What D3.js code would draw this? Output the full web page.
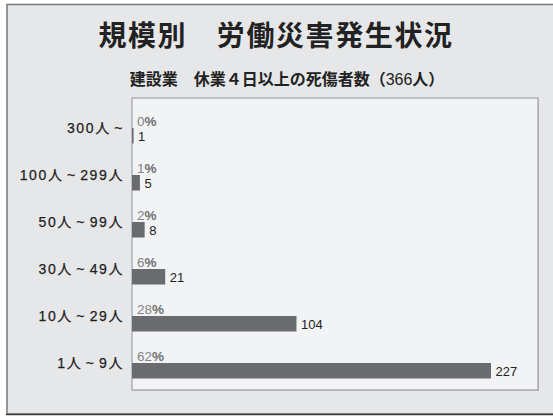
<!DOCTYPE html>
<html>
<head>
<meta charset="utf-8">
<script src="https://cdn.jsdelivr.net/npm/d3@7"></script>
<style>
  body { margin: 0; background: #fff; }
  svg { display: block; }
</style>
</head>
<body>
<svg width="553" height="416"></svg>
<script>
// data
var categories = ["300人 ~", "100人 ~ 299人", "50人 ~ 99人", "30人 ~ 49人", "10人 ~ 29人", "1人 ~ 9人"];
var counts = [1, 5, 8, 21, 104, 227];
var percents = [0, 1, 2, 6, 28, 62];
var title = "規模別　労働災害発生状況";
var subParts = ["建設業　休業４日以上の死傷者数（", "366", "人）"];

var svg = d3.select("svg");
var jp = "'Liberation Sans', 'Noto Sans CJK JP', sans-serif";

// outer frame
svg.append("rect")
  .attr("x", 7).attr("y", 4.5)
  .attr("width", 560).attr("height", 409.5)
  .attr("fill", "#e6e7e9")
  .attr("stroke", "#7a7a7a")
  .attr("stroke-width", 1.5);
svg.append("line")
  .attr("x1", 6).attr("x2", 553)
  .attr("y1", 414.5).attr("y2", 414.5)
  .attr("stroke", "#3a3a3a")
  .attr("stroke-width", 1.5);

// inner plot box
var box = {x: 132, y: 98, w: 406, h: 292};
svg.append("rect")
  .attr("x", box.x + 1).attr("y", box.y + 1)
  .attr("width", box.w).attr("height", box.h)
  .attr("fill", "#a9aaad");
svg.append("rect")
  .attr("x", box.x).attr("y", box.y)
  .attr("width", box.w).attr("height", box.h)
  .attr("fill", "#f2f3f5")
  .attr("stroke", "#b0b1b4")
  .attr("stroke-width", 1.5);

// titles
svg.append("text")
  .attr("x", 276).attr("y", 46)
  .attr("text-anchor", "middle")
  .style("font-family", jp)
  .style("font-weight", "bold")
  .style("font-size", "28px")
  .style("letter-spacing", "1.6px")
  .attr("fill", "#222")
  .text(title);

var sub = svg.append("text")
  .attr("x", 287).attr("y", 85)
  .attr("text-anchor", "middle")
  .style("font-family", jp)
  .style("font-size", "16px")
  .attr("fill", "#222");
sub.selectAll("tspan")
  .data(subParts)
  .enter()
  .append("tspan")
    .style("font-weight", function(d, i) { return i === 1 ? "normal" : "bold"; })
    .text(function(d) { return d; });

// scales
var x = d3.scaleLinear()
  .domain([0, 227])
  .range([box.x, box.x + 359]);

var y = d3.scaleBand()
  .domain(categories)
  .range([128, 378.5])
  .paddingInner(0.67)
  .paddingOuter(0);

var rows = categories.map(function(c, i) {
  return {cat: c, count: counts[i], pct: percents[i]};
});

// bars
svg.append("g")
  .selectAll("rect")
  .data(rows)
  .enter()
  .append("rect")
    .attr("x", x(0))
    .attr("y", function(d) { return y(d.cat); })
    .attr("width", function(d) { return x(d.count) - x(0); })
    .attr("height", y.bandwidth())
    .attr("fill", "#6a6b6f");

// category labels
svg.append("g")
  .selectAll("text")
  .data(rows)
  .enter()
  .append("text")
    .attr("x", 124)
    .attr("y", function(d) { return y(d.cat) + y.bandwidth() / 2 - 2.5; })
    .attr("text-anchor", "end")
    .style("font-family", jp)
    .style("font-size", "14px")
    .style("letter-spacing", "1.6px")
    .style("word-spacing", "-2px")
    .attr("fill", "#1e1e1e")
    .attr("stroke", "#1e1e1e")
    .attr("stroke-width", 0.25)
    .text(function(d) { return d.cat; });

// percent labels
var pct = svg.append("g")
  .selectAll("text")
  .data(rows)
  .enter()
  .append("text")
    .attr("x", 137)
    .attr("y", function(d) { return y(d.cat) - 2; })
    .style("font-family", jp)
    .style("font-size", "13.5px");
pct.append("tspan")
  .attr("fill", "#858587")
  .text(function(d) { return d.pct; });
pct.append("tspan")
  .attr("fill", "#707072")
  .style("font-weight", "bold")
  .text("%");

// value labels
svg.append("g")
  .selectAll("text")
  .data(rows)
  .enter()
  .append("text")
    .attr("x", function(d) { return x(d.count) + 4.5; })
    .attr("y", function(d) { return y(d.cat) + y.bandwidth() - 3; })
    .style("font-family", jp)
    .style("font-size", "13px")
    .attr("fill", "#222")
    .text(function(d) { return d.count; });
</script>
</body>
</html>
